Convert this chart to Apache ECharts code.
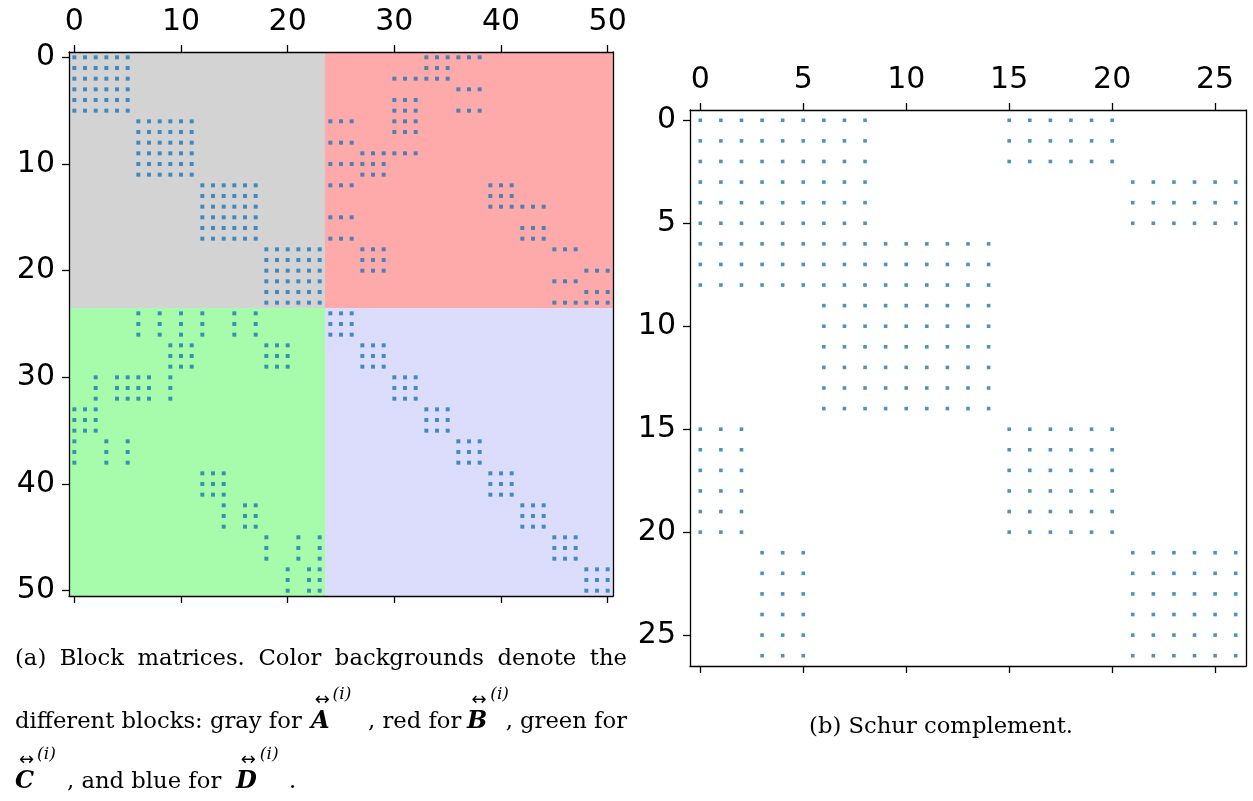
<!DOCTYPE html>
<html><head><meta charset="utf-8">
<script src="https://cdn.jsdelivr.net/npm/echarts@6/dist/echarts.min.js"></script>
<style>html,body{margin:0;padding:0;background:#fff}#c{width:1253px;height:801px}</style>
</head><body><div id="c"></div>
<script>
// ---------------- data ----------------
const leftTicks = [0, 10, 20, 30, 40, 50];
const rightTicks = [0, 5, 10, 15, 20, 25];
const leftN = 51;   // matrix size, left panel
const rightN = 27;  // matrix size, right panel (Schur complement)

// Dense diagonal blocks of A (gray) : inclusive index ranges
const aBlocks = [[0, 5], [6, 11], [12, 17], [18, 23]];
// Dense diagonal blocks of D (blue)
const dBlocks = [[24, 26], [27, 29], [30, 32], [33, 35], [36, 38], [39, 41], [42, 44], [45, 47], [48, 50]];
// B block (red): for each row 0..23, nonzero column ranges
const bRows = [
  [[33, 38]], [[33, 35]], [[30, 35]], [[36, 38]], [[30, 32]], [[30, 32], [36, 38]],
  [[24, 26], [30, 32]], [[30, 32]], [[24, 26]], [[27, 32]], [[24, 29]], [[27, 29]],
  [[24, 26], [39, 41]], [[39, 41]], [[39, 44]], [[24, 26]], [[42, 44]], [[24, 26], [42, 44]],
  [[27, 29], [45, 47]], [[27, 29]], [[27, 29], [48, 50]], [[45, 47]], [[48, 50]], [[45, 50]]
];
// C block (green): row groups and their nonzero columns
const cGroups = [
  { rows: [24, 26], cols: [6, 8, 10, 12, 15, 17] },
  { rows: [27, 29], cols: [9, 10, 11, 18, 19, 20] },
  { rows: [30, 32], cols: [2, 4, 5, 6, 7, 9] },
  { rows: [33, 35], cols: [0, 1, 2] },
  { rows: [36, 38], cols: [0, 3, 5] },
  { rows: [39, 41], cols: [12, 13, 14] },
  { rows: [42, 44], cols: [14, 16, 17] },
  { rows: [45, 47], cols: [18, 21, 23] },
  { rows: [48, 50], cols: [20, 22, 23] }
];
// Background block regions [x0, x1, y0, y1]
const regionBounds = [
  [-0.5, 23.5, -0.5, 23.5],
  [23.5, 50.5, -0.5, 23.5],
  [-0.5, 23.5, 23.5, 50.5],
  [23.5, 50.5, 23.5, 50.5]
];
const regionColors = ['#d3d3d3', '#ffaaaa', '#a7fcab', '#dcdcfc'];

// Schur complement pattern: row ranges with column ranges
const schurGroups = [
  { rows: [0, 2], cols: [[0, 8], [15, 20]] },
  { rows: [3, 5], cols: [[0, 8], [21, 26]] },
  { rows: [6, 8], cols: [[0, 14]] },
  { rows: [9, 14], cols: [[6, 14]] },
  { rows: [15, 20], cols: [[0, 2], [15, 20]] },
  { rows: [21, 26], cols: [[3, 5], [21, 26]] }
];

// ---------------- build point lists ----------------
const leftPts = [];
function range(a, b) { const r = []; for (let i = a; i <= b; i++) r.push(i); return r; }
aBlocks.concat(dBlocks).forEach(([s, e]) => {
  range(s, e).forEach(r => range(s, e).forEach(c => leftPts.push([c, r])));
});
bRows.forEach((rngs, r) => rngs.forEach(([s, e]) => range(s, e).forEach(c => leftPts.push([c, r]))));
cGroups.forEach(g => range(g.rows[0], g.rows[1]).forEach(r => g.cols.forEach(c => leftPts.push([c, r]))));
const rightPts = [];
schurGroups.forEach(g => range(g.rows[0], g.rows[1]).forEach(r =>
  g.cols.forEach(([s, e]) => range(s, e).forEach(c => rightPts.push([c, r])))));

// ---------------- chart ----------------
const chart = echarts.init(document.getElementById('c'), null, { renderer: 'canvas' });
const AX = '#000';
const tickFont = 'DejaVu Sans';
function xAx(grid, pos, n, ticks, labels) {
  return {
    type: 'value', gridIndex: grid, position: pos, min: -0.5, max: n - 0.5, z: 10,
    axisLine: { show: true, onZero: false, lineStyle: { color: AX, width: 1.3 } },
    axisTick: { show: true, length: 7, inside: false, customValues: ticks, lineStyle: { color: AX, width: 1.3 } },
    axisLabel: { show: labels, customValues: ticks, fontFamily: tickFont, fontSize: 30, color: '#000', margin: 15 },
    splitLine: { show: false }
  };
}
function yAx(grid, pos, n, ticks, labels) {
  return {
    type: 'value', gridIndex: grid, position: pos, inverse: true, min: -0.5, max: n - 0.5, z: 10,
    axisLine: { show: true, onZero: false, lineStyle: { color: AX, width: 1.3 } },
    axisTick: { show: labels, length: 7, inside: false, customValues: ticks, lineStyle: { color: AX, width: 1.3 } },
    axisLabel: { show: labels, customValues: ticks, fontFamily: tickFont, fontSize: 30, color: '#000', margin: 14 },
    splitLine: { show: false }
  };
}

// caption layout helpers
const SERIF = 'DejaVu Serif';
const FS = 22.7;
const mctx = document.createElement('canvas').getContext('2d');
function tw(t, font) { mctx.font = font; return mctx.measureText(t).width; }
const capFont = FS + 'px "' + SERIF + '"';
const graphics = [];
function txt(t, x, y, opts) {
  opts = opts || {};
  graphics.push({
    type: 'text', x: x, y: y, z: 100,
    style: {
      text: t, fill: '#000',
      font: opts.font || capFont,
      align: opts.align || 'left', verticalAlign: 'middle'
    }
  });
}
// line 1 justified between 15 and 627
const line1 = ['(a)', 'Block', 'matrices.', 'Color', 'backgrounds', 'denote', 'the'];
(function () {
  const ws = line1.map(w => tw(w, capFont));
  const total = ws.reduce((a, b) => a + b, 0);
  const gap = (627 - 15 - total) / (line1.length - 1);
  let x = 15;
  line1.forEach((w, i) => { txt(w, x, 659); x += ws[i] + gap; });
})();
// math pieces
const boldFont = 'italic bold 24px "' + SERIF + '"';
const supFont = 'italic 17px "' + SERIF + '"';
const arrFont = '18px "DejaVu Sans"';
function mathSym(letter, x, y) {
  txt(letter, x, y, { font: boldFont });
  const w = tw(letter, boldFont);
  txt('\u2194', x + w / 2 + 2, y - 22, { font: arrFont, align: 'center' });
  txt('(i)', x + w + 3, y - 27, { font: supFont });
}
// line 2
txt('different blocks: gray for', 15, 722);
mathSym('A', 311, 722);
txt(', red for', 368, 722);
mathSym('B', 467, 722);
txt(', green for', 627, 722, { align: 'right' });
// line 3
mathSym('C', 15, 782);
txt(', and blue for', 67, 782);
mathSym('D', 236, 782);
txt('.', 289, 782);
// right caption
txt('(b) Schur complement.', 941, 727, { align: 'center' });

chart.setOption({
  animation: false,
  backgroundColor: '#fff',
  grid: [
    { left: 69, top: 52, width: 544, height: 544 },
    { left: 690, top: 110, width: 556, height: 556 }
  ],
  xAxis: [
    xAx(0, 'top', leftN, leftTicks, true),
    xAx(0, 'bottom', leftN, leftTicks, false),
    xAx(1, 'top', rightN, rightTicks, true),
    xAx(1, 'bottom', rightN, rightTicks, false)
  ],
  yAxis: [
    yAx(0, 'left', leftN, leftTicks, true),
    yAx(0, 'right', leftN, leftTicks, false),
    yAx(1, 'left', rightN, rightTicks, true),
    yAx(1, 'right', rightN, rightTicks, false)
  ],
  series: [
    {
      type: 'custom', xAxisIndex: 0, yAxisIndex: 0, z: 1, silent: true,
      data: regionBounds,
      encode: { x: [0, 1], y: [2, 3] },
      renderItem: function (params, api) {
        const p0 = api.coord([api.value(0), api.value(2)]);
        const p1 = api.coord([api.value(1), api.value(3)]);
        return {
          type: 'rect',
          shape: { x: Math.min(p0[0], p1[0]), y: Math.min(p0[1], p1[1]), width: Math.abs(p1[0] - p0[0]), height: Math.abs(p1[1] - p0[1]) },
          style: { fill: regionColors[params.dataIndex] }
        };
      }
    },
    {
      type: 'scatter', xAxisIndex: 0, yAxisIndex: 0, z: 3, data: leftPts,
      symbol: 'rect', symbolSize: 4, itemStyle: { color: '#1f77b4' }, silent: true
    },
    {
      type: 'scatter', xAxisIndex: 2, yAxisIndex: 2, z: 3, data: rightPts,
      symbol: 'rect', symbolSize: 3.6, itemStyle: { color: '#1f77b4' }, silent: true
    }
  ],
  graphic: graphics
});
</script></body></html>
